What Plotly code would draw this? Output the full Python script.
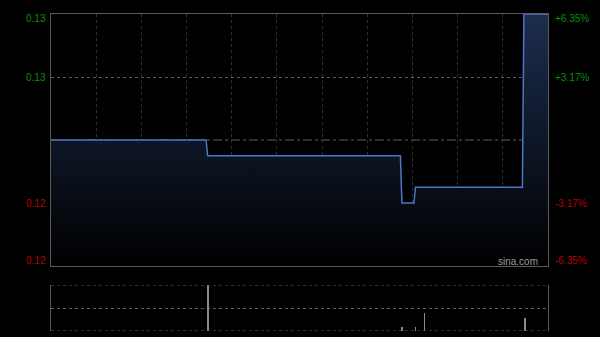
import plotly.graph_objects as go

# ---- data ----
prev_close = 0.126
# minute index within HK trading session (0..330) and price at that minute
price_minutes = [0, 103, 104, 232, 233, 241, 242, 313, 314, 330]
price_values = [0.126, 0.126, 0.125, 0.125, 0.122, 0.122, 0.123, 0.123, 0.134, 0.134]
vol_minutes = [104, 233, 242, 248, 315]
vol_values = [200000, 17000, 17000, 78000, 56000]
# axis ticks
tick_prices = [0.134, 0.130, 0.122, 0.118]
tick_labels = ["0.13", "0.13", "0.12", "0.12"]
pct_labels = ["+6.35%", "+3.17%", "-3.17%", "-6.35%"]
tick_colors = ["#0a8f0a", "#0a8f0a", "#b80000", "#b80000"]
label_shift = [-5, 0, 0, 6]  # keep edge labels inside

W, H = 600, 337
x0, x1 = 51 / W, 548 / W
py0, py1 = 1 - 266 / H, 1 - 14 / H
vy0, vy1 = 1 - 331 / H, 1 - 285 / H
ymin, ymax = 0.118, 0.134
vmax = max(vol_values)

fig = go.Figure()
fig.add_trace(go.Scatter(
    x=price_minutes, y=price_values, mode="lines",
    line=dict(color="#4a78c4", width=1.5),
    fill="tozeroy",
    fillgradient=dict(type="vertical", start=ymin, stop=ymax,
                      colorscale=[[0, "rgba(0,0,0,1)"], [1, "rgb(28,45,78)"]]),
    xaxis="x", yaxis="y", hoverinfo="skip", showlegend=False))
fig.add_trace(go.Bar(
    x=vol_minutes, y=vol_values, width=0.6, marker=dict(color="#8a8a8a", line=dict(width=0)),
    xaxis="x2", yaxis="y2", showlegend=False, hoverinfo="skip"))

fig.update_layout(
    width=W, height=H, margin=dict(l=0, r=0, t=0, b=0),
    paper_bgcolor="#000000", plot_bgcolor="#000000",
    font=dict(family="Liberation Sans, Arial", size=10),
    bargap=0,
    xaxis=dict(domain=[x0, x1], range=[0, 330], tickvals=list(range(30, 330, 30)),
               showticklabels=False, showgrid=True, gridcolor="#303030", griddash="dot",
               gridwidth=1, zeroline=False, showline=True, linecolor="#5a5a5a",
               linewidth=1, mirror=True, anchor="y", fixedrange=True),
    yaxis=dict(domain=[py0, py1], range=[ymin, ymax], tickvals=[0.130, 0.122],
               showticklabels=False, showgrid=True, gridcolor="#5e5e5e", griddash="dot",
               zeroline=False, showline=True, linecolor="#5a5a5a", linewidth=1,
               mirror=True, anchor="x"),
    xaxis2=dict(domain=[x0, x1], range=[0, 330], showticklabels=False, showgrid=False,
                zeroline=False, showline=False, anchor="y2"),
    yaxis2=dict(domain=[vy0, vy1], range=[0, vmax],
                tickvals=[vmax / 2],
                showticklabels=False, showgrid=True, gridcolor="#5e5e5e", griddash="dot",
                zeroline=False, showline=True, linecolor="#5a5a5a", linewidth=1,
                mirror=True, anchor="x2"),
)

# previous close line
fig.add_shape(type="line", xref="x", yref="y", x0=0, x1=330, y0=prev_close, y1=prev_close,
              line=dict(color="#5e5e5e", width=1, dash="dashdot"), layer="below")
# dotted top/bottom edges of volume panel
for yv in (0, vmax):
    fig.add_shape(type="line", xref="x2", yref="y2", x0=0, x1=330, y0=yv, y1=yv,
                  line=dict(color="#5e5e5e", width=1, dash="dot"), layer="above")

for p, t, pc, c, s in zip(tick_prices, tick_labels, pct_labels, tick_colors, label_shift):
    fig.add_annotation(text=t, xref="paper", yref="y", x=48 / W, y=p, xanchor="right",
                       yanchor="middle", yshift=s, showarrow=False,
                       font=dict(color=c, size=10))
    fig.add_annotation(text=pc, xref="paper", yref="y", x=553 / W, y=p, xanchor="left",
                       yanchor="middle", yshift=s, showarrow=False,
                       font=dict(color=c, size=10))

fig.add_annotation(text="sina.com", xref="paper", yref="paper", x=518 / W, y=1 - 261 / H,
                   xanchor="center", yanchor="middle", showarrow=False,
                   font=dict(color="#9a9a9a", size=10))

fig.write_html("out.html")
